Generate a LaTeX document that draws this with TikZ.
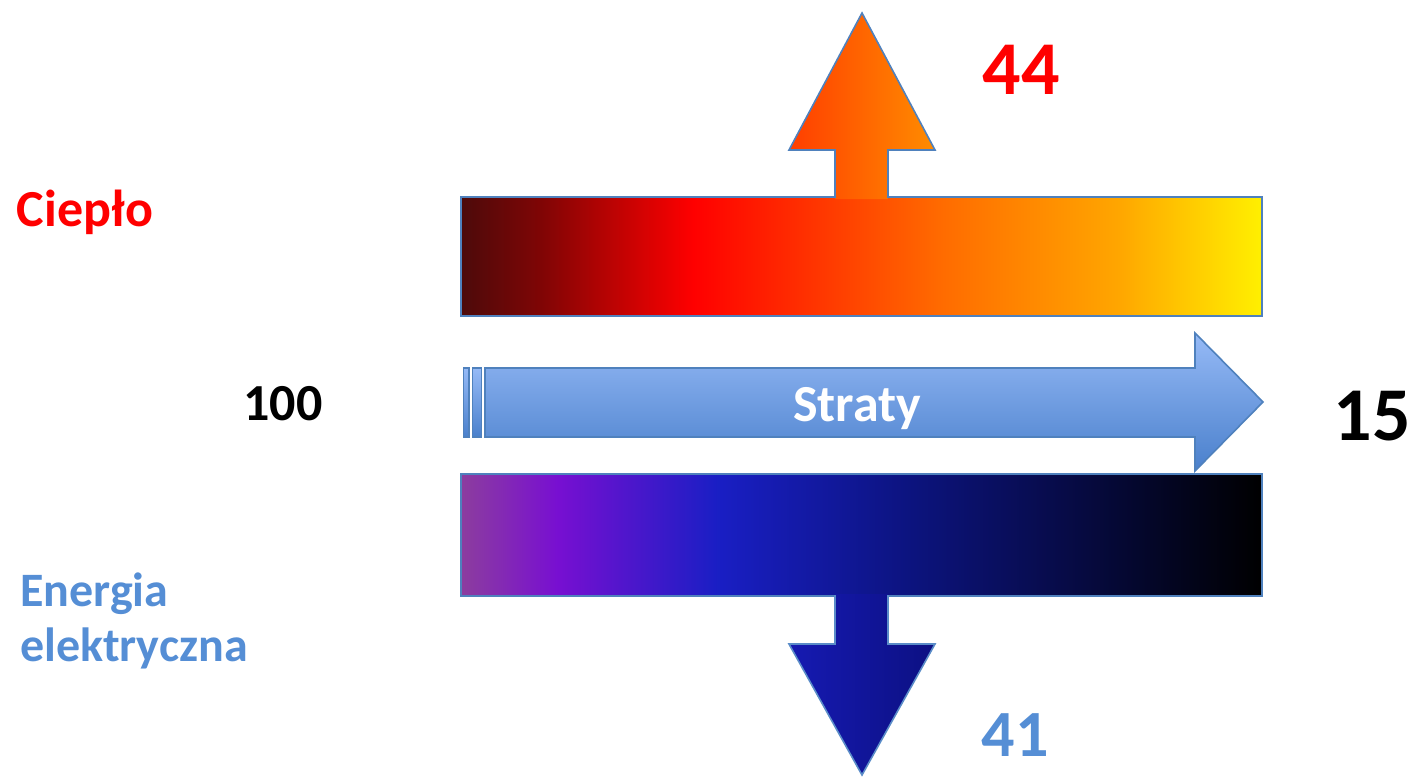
\documentclass[tikz,border=0pt]{standalone}
\usepackage{fontspec}
\setmainfont{Carlito}
\definecolor{outl}{RGB}{79,129,189}
\definecolor{txtblue}{RGB}{85,142,213}
\definecolor{arrowtop}{RGB}{150,186,246}
\definecolor{arrowbot}{RGB}{74,128,204}
\pgfdeclarehorizontalshading{fireshade}{100bp}{rgb(0bp)=(0.30,0.04,0.04); rgb(25bp)=(0.30,0.04,0.04); rgb(30bp)=(0.5,0.02,0.02); rgb(39.5bp)=(1,0,0); rgb(55bp)=(1,0.42,0); rgb(66bp)=(1,0.65,0); rgb(75bp)=(1,0.94,0); rgb(100bp)=(1,0.94,0)}
\pgfdeclarehorizontalshading{nightshade}{100bp}{rgb(0bp)=(0.55,0.24,0.62); rgb(25bp)=(0.55,0.24,0.62); rgb(31bp)=(0.47,0.06,0.82); rgb(41bp)=(0.10,0.12,0.77); rgb(52bp)=(0.05,0.08,0.52); rgb(75bp)=(0,0,0); rgb(100bp)=(0,0,0)}
\tikzset{
  outline/.style={draw=outl, line width=1.6pt, line join=miter},
  lbl/.style={font=\fontsize{52}{60}\selectfont\bfseries, anchor=base, inner sep=0pt},
  biglbl/.style={font=\fontsize{76}{86}\selectfont\bfseries, anchor=base, inner sep=0pt},
  midlbl/.style={font=\fontsize{48}{56}\selectfont\bfseries, anchor=base west, inner sep=0pt, text=txtblue},
}
\begin{document}
\begin{tikzpicture}[x=1pt,y=-1pt]
\useasboundingbox (0,0) rectangle (1412,778);
% top bar
\path[shading=fireshade, outline, line width=1.2pt] (461,197) rectangle (1262,316);
% up arrow
\shade[left color={rgb,255:red,255;green,62;blue,0}, right color={rgb,255:red,255;green,140;blue,0}]
  (835,199) -- (835,150) -- (789,150) -- (862,13) -- (935,150) -- (888,150) -- (888,199) -- cycle;
\draw[outline] (835,198) -- (835,150) -- (789,150) -- (862,13) -- (935,150) -- (888,150) -- (888,198);
% middle arrow
\path[top color=arrowtop, bottom color=arrowbot, outline]
  (485,368) -- (1195,368) -- (1195,333) -- (1263,402) -- (1195,471) -- (1195,437) -- (485,437) -- cycle;
\path[top color=arrowtop, bottom color=arrowbot, outline] (463.5,368) rectangle (469,437);
\path[top color=arrowtop, bottom color=arrowbot, outline] (472.5,368) rectangle (481.5,437);
% bottom bar
\path[shading=nightshade, outline, line width=1.2pt] (461,474) rectangle (1262,596);
% down arrow
\shade[left color={rgb,255:red,22;green,26;blue,178}, right color={rgb,255:red,12;green,16;blue,130}]
  (835,594) -- (835,644) -- (789,644) -- (862,775) -- (935,644) -- (888,644) -- (888,594) -- cycle;
\draw[outline, draw={rgb,255:red,90;green,140;blue,200}] (835,595) -- (835,644) -- (789,644) -- (862,775) -- (935,644) -- (888,644) -- (888,595);
% labels
\node[lbl, text=red] (ciepl) at (85,226) {Ciepło};
\node[lbl, text=black] (sto) at (283,420) {100};
\node[lbl, text=white] (straty) at (857,421) {Straty};
\node[biglbl, text=black] (pietn) at (1372,440) {15};
\node[biglbl, text=red] (czter) at (1021,95) {44};
\node[biglbl, text=txtblue, font=\fontsize{66}{76}\selectfont\bfseries] (czj) at (1015,756) {41};
\node[midlbl] (energ) at (20,606) {Energia};
\node[midlbl] (elek) at (20,661) {elektryczna};
\end{tikzpicture}
\end{document}
